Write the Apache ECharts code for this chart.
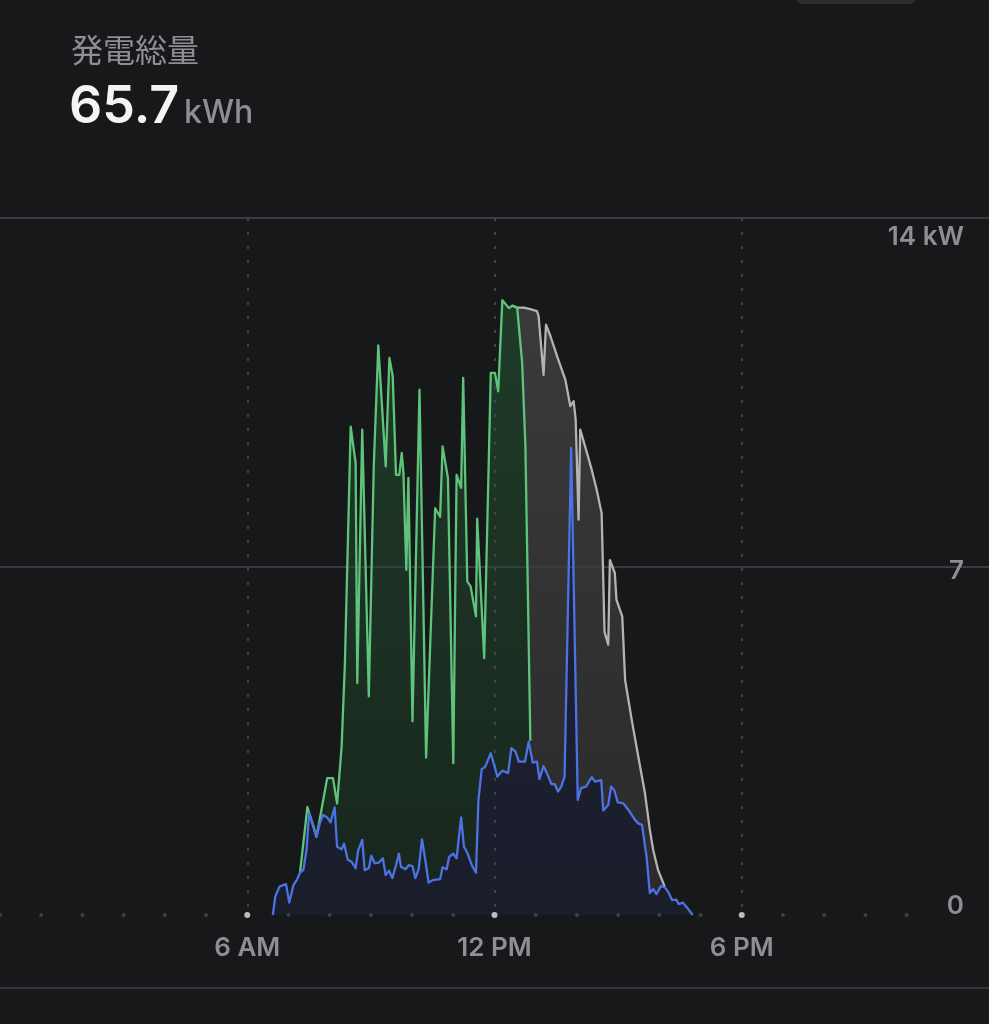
<!DOCTYPE html>
<html><head><meta charset="utf-8">
<script src="https://cdn.jsdelivr.net/npm/echarts@6/dist/echarts.min.js"></script>
<style>html,body{margin:0;padding:0;background:#17181a;}#c{width:989px;height:1024px;}</style>
</head><body><div id="c"></div>
<script>
const titleText = '発電総量';
const totalValue = '65.7';
const totalUnit = 'kWh';
const yTicks = [0, 7, 14];
const yTickLabels = ['0', '7', '14 kW'];
const xLabelHours = [6, 12, 18];
const xLabelTexts = ['6 AM', '12 PM', '6 PM'];
const hourDots = [0,1,2,3,4,5,6,7,8,9,10,11,12,13,14,15,16,17,18,19,20,21,22];
const majorHours = [6, 12, 18];

// [hour, kW]
const grayPower = [
  [12.43,12.24],[12.55,12.2],[12.71,12.2],[12.87,12.17],[13.03,12.13],[13.07,12.03],
  [13.19,10.85],[13.25,11.86],[13.36,11.62],[13.52,11.22],[13.72,10.75],[13.84,10.22],
  [13.92,10.32],[13.97,9.95],[14.04,7.94],[14.08,9.75],[14.20,9.41],[14.36,8.94],
  [14.48,8.54],[14.60,8.07],[14.67,5.69],[14.76,5.43],[14.80,7.13],[14.92,6.87],
  [14.96,6.33],[15.0,6.33],[15.10,6.0],[15.17,4.72],[15.33,3.92],[15.49,3.18],
  [15.65,2.45],[15.77,1.71],[15.85,1.31],[15.97,0.9],[16.13,0.57]
];
const greenPower = [
  [7.28,0.85],[7.46,2.17],[7.68,1.57],[7.80,2.11],[7.94,2.75],[8.08,2.75],[8.18,2.24],
  [8.29,3.38],[8.37,5.06],[8.51,9.81],[8.63,9.08],[8.67,4.66],[8.79,9.75],[8.95,4.39],
  [9.07,9.01],[9.18,11.44],[9.36,9.01],[9.45,11.19],[9.53,10.82],[9.61,8.84],[9.69,8.84],
  [9.75,9.28],[9.79,8.88],[9.86,6.93],[9.91,8.78],[10.01,3.89],[10.18,10.55],[10.34,3.16],
  [10.56,8.17],[10.68,8.0],[10.74,9.41],[10.87,8.78],[11.00,3.05],[11.08,8.84],[11.19,8.58],
  [11.24,10.79],[11.34,6.70],[11.42,6.60],[11.55,6.0],[11.58,7.96],[11.75,5.16],[11.91,10.89],
  [12.01,10.89],[12.09,10.52],[12.19,12.35],[12.35,12.19],[12.43,12.24],[12.55,12.2],
  [12.67,11.1],[12.75,9.41],[12.87,3.5]
];
const bluePower = [
  [6.62,0],[6.68,0.37],[6.78,0.57],[6.94,0.62],[7.02,0.25],[7.12,0.6],[7.20,0.7],[7.28,0.85],
  [7.36,0.9],[7.44,1.31],[7.50,2.04],[7.60,1.81],[7.68,1.57],[7.76,1.84],[7.84,2.01],[7.94,1.96],
  [8.02,1.86],[8.12,2.16],[8.18,1.37],[8.29,1.32],[8.35,1.43],[8.44,1.11],[8.53,1.07],[8.63,0.94],
  [8.69,1.29],[8.79,1.51],[8.85,0.9],[8.95,0.94],[9.01,1.19],[9.09,1.04],[9.19,1.05],[9.29,1.14],
  [9.36,0.8],[9.44,0.89],[9.52,0.74],[9.61,1.0],[9.68,1.23],[9.73,0.97],[9.84,0.92],[9.92,1.0],
  [10.01,0.98],[10.08,0.74],[10.16,0.92],[10.24,1.52],[10.32,1.11],[10.40,0.65],[10.50,0.7],
  [10.68,0.72],[10.74,0.96],[10.84,0.92],[10.90,1.17],[11.00,1.23],[11.08,1.14],[11.19,1.96],
  [11.26,1.37],[11.34,1.25],[11.45,1.0],[11.55,0.85],[11.61,2.31],[11.69,2.93],[11.77,2.97],
  [11.91,3.25],[12.07,2.78],[12.19,2.9],[12.33,2.85],[12.41,3.35],[12.51,3.28],[12.59,3.08],
  [12.74,3.08],[12.83,3.48],[12.93,3.06],[13.03,3.08],[13.09,2.73],[13.19,2.99],[13.27,2.85],
  [13.38,2.63],[13.46,2.63],[13.54,2.48],[13.62,2.58],[13.70,2.78],[13.86,9.38],[14.02,2.31],
  [14.10,2.55],[14.22,2.58],[14.36,2.77],[14.44,2.68],[14.59,2.71],[14.64,2.1],[14.76,2.21],
  [14.83,2.58],[14.91,2.5],[14.99,2.26],[15.13,2.24],[15.25,2.11],[15.41,1.91],[15.49,1.84],
  [15.58,1.81],[15.69,1.17],[15.77,0.44],[15.85,0.52],[15.93,0.42],[16.04,0.58],[16.13,0.56],
  [16.21,0.47],[16.31,0.3],[16.41,0.31],[16.47,0.22],[16.57,0.25],[16.69,0.13],[16.81,0]
];

const chart = echarts.init(document.getElementById('c'), null, {renderer: 'canvas'});
const grad = (a, b) => new echarts.graphic.LinearGradient(0, 0, 0, 1, [{offset: 0, color: a}, {offset: 1, color: b}]);
const labelFont = 'Inter, "Noto Sans", sans-serif';

function fillSeries(data, top, bottom, z) {
  return {type: 'line', data: data, symbol: 'none', z: z, silent: true,
    lineStyle: {width: 0, opacity: 0}, areaStyle: {color: grad(top, bottom), opacity: 1}};
}
function lineSeries(data, color, z) {
  return {type: 'line', data: data, symbol: 'none', z: z, silent: true,
    lineStyle: {width: 2.3, color: color, join: 'round'}};
}

chart.setOption({
  backgroundColor: '#17181a',
  animation: false,
  title: [
    {text: titleText, left: 66, top: 29,
     textStyle: {color: '#8e8e93', fontSize: 32, fontWeight: 400, fontFamily: '"Noto Sans CJK JP", sans-serif'}},
    {text: '{v|' + totalValue + '} {u|' + totalUnit + '}', left: 64, top: 76,
     textStyle: {rich: {
       v: {color: '#f4f4f5', fontSize: 52, fontWeight: 600, fontFamily: labelFont},
       u: {color: '#8e8e93', fontSize: 32, fontWeight: 500, fontFamily: labelFont, padding: [12, 0, 0, 0]}
     }}}
  ],
  grid: {left: -1.5, right: -3.5, top: 218, bottom: 109, containLabel: false},
  xAxis: {
    type: 'value', min: 0, max: 24, interval: 6, z: 4,
    axisLine: {show: false}, axisTick: {show: false},
    splitLine: {show: true, showMinLine: false, showMaxLine: false,
      lineStyle: {color: '#4e4f52', width: 1.5, type: [3, 11]}},
    axisLabel: {
      margin: 20, color: '#8e8e93', fontSize: 26, fontWeight: 600, fontFamily: labelFont,
      showMinLabel: false, showMaxLabel: false,
      formatter: v => { const i = xLabelHours.indexOf(v); return i >= 0 ? xLabelTexts[i] : ''; }
    }
  },
  yAxis: {
    type: 'value', min: 0, max: 14, interval: 7, position: 'right', z: 4,
    axisLine: {show: false}, axisTick: {show: false},
    splitLine: {show: true, showMinLine: false, lineStyle: {color: '#3a3b3e', width: 2}},
    axisLabel: {
      inside: true, margin: 25, verticalAlign: 'middle',
      formatter: v => { const i = yTicks.indexOf(v); const t = yTickLabels[i];
        return v === 14 ? '{a|' + t + '}' : v === 7 ? '{b|' + t + '}' : '{c|' + t + '}'; },
      rich: {
        a: {color: '#8e8e93', fontSize: 26, fontWeight: 600, fontFamily: labelFont, padding: [38, 0, 0, 0]},
        b: {color: '#8e8e93', fontSize: 26, fontWeight: 600, fontFamily: labelFont, padding: [10, 0, 0, 0]},
        c: {color: '#8e8e93', fontSize: 26, fontWeight: 600, fontFamily: labelFont, padding: [0, 0, 18, 0]}
      }
    }
  },
  series: [
    fillSeries(grayPower, '#3a3a3b', '#2a2a2b', 1),
    fillSeries(greenPower, '#1f3b28', '#18261d', 2),
    fillSeries(bluePower, '#1e2236', '#1a1d2a', 3),
    lineSeries(grayPower, '#b3b3b5', 5),
    lineSeries(greenPower, '#5ec47b', 6),
    lineSeries(bluePower, '#4c72e4', 7),
    {type: 'scatter', z: 8, silent: true, symbol: 'circle',
     data: hourDots.map(h => [h, 0]),
     symbolSize: (val) => majorHours.indexOf(val[0]) >= 0 ? 6 : 4,
     itemStyle: {color: (p) => majorHours.indexOf(p.value[0]) >= 0 ? '#e6e6e8' : '#4a4b4e'}}
  ],
  graphic: [
    {type: 'rect', shape: {x: 795, y: -20, width: 122, height: 24, r: 8}, style: {fill: '#2b2c2e'}},
    {type: 'rect', shape: {x: 0, y: 987, width: 989, height: 2}, style: {fill: '#36373a'}}
  ]
});
</script></body></html>
